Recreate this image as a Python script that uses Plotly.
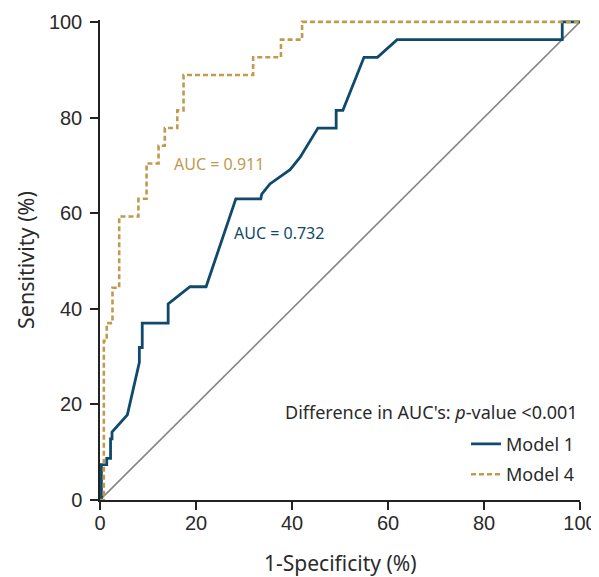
import plotly.graph_objects as go

# Model 1 ROC curve (1-specificity %, sensitivity %)
m1_fpr = [0, 0.3, 0.3, 1.4, 1.4, 2.2, 2.2, 2.5, 2.5, 5.7, 8.2, 8.2, 8.8, 8.8, 14.2, 14.2, 18.75, 22.1,
          28.3, 33.5, 33.7, 35.4, 39.6, 41.7, 45.4, 49.2, 49.2, 50.6, 55.0, 57.8, 61.9, 96.3, 96.3, 100]
m1_tpr = [0, 0, 7.4, 7.4, 8.7, 8.7, 12.8, 12.8, 14.2, 17.8, 28.8, 31.9, 31.9, 37.0, 37.0, 41.0, 44.6, 44.6,
          63.0, 63.0, 64.0, 66.1, 69.1, 71.7, 77.8, 77.8, 81.5, 81.5, 92.6, 92.6, 96.3, 96.3, 100, 100]

# Model 4 ROC curve
m4_fpr = [0, 0.8, 0.8, 1.4, 1.4, 2.6, 2.6, 4.0, 4.0, 8.0, 8.0, 9.7, 9.7, 12.2, 12.2, 13.5, 13.5,
          16.1, 16.1, 17.4, 17.4, 31.9, 31.9, 37.7, 37.7, 42.1, 42.1, 100]
m4_tpr = [0, 0, 33.3, 33.3, 37.0, 37.0, 44.4, 44.4, 59.3, 59.3, 63.0, 63.0, 70.4, 70.4, 74.1, 74.1, 77.8,
          77.8, 81.5, 81.5, 88.9, 88.9, 92.6, 92.6, 96.3, 96.3, 100, 100]

ref_x = [0, 100]
ref_y = [0, 100]

tick_vals = [0, 20, 40, 60, 80, 100]

BLUE = "#0f4a6c"
GOLD = "#c19a4e"
GREY = "#858585"
AX = "#222222"
TXT = "#2a2a2a"

fig = go.Figure()
fig.add_trace(go.Scatter(x=ref_x, y=ref_y, mode="lines", line=dict(color=GREY, width=1.6),
                         showlegend=False, hoverinfo="skip"))
fig.add_trace(go.Scatter(x=m1_fpr, y=m1_tpr, mode="lines", name="Model 1",
                         line=dict(color=BLUE, width=2.8), legendgroup="a"))
fig.add_trace(go.Scatter(x=m4_fpr, y=m4_tpr, mode="lines", name="Model 4",
                         line=dict(color=GOLD, width=2.6, dash="5px,3px"), legendgroup="b"))

fig.add_annotation(x=15.0, y=70.2, xref="x", yref="y", text="AUC = 0.911", showarrow=False,
                   xanchor="left", yanchor="middle", font=dict(family="Noto Sans", size=16, color=GOLD))
fig.add_annotation(x=27.6, y=55.8, xref="x", yref="y", text="AUC = 0.732", showarrow=False,
                   xanchor="left", yanchor="middle", font=dict(family="Noto Sans", size=16, color=BLUE))
fig.add_annotation(x=100, y=18.5, xref="x", yref="y", text="Difference in AUC's: <i>p</i>-value <0.001",
                   showarrow=False, xanchor="right", yanchor="middle",
                   font=dict(family="Noto Sans", size=18, color=TXT))

# axis titles
fig.add_annotation(x=0.5, y=0, xref="paper", yref="paper", text="1-Specificity (%)", showarrow=False,
                   xanchor="center", yanchor="middle", yshift=-63,
                   font=dict(family="Noto Sans", size=21, color=TXT))
fig.add_annotation(x=0, y=0.5, xref="paper", yref="paper", text="Sensitivity (%)", showarrow=False,
                   xanchor="center", yanchor="middle", xshift=-75, textangle=-90,
                   font=dict(family="Noto Sans", size=21.5, color=TXT))

axis_common = dict(showline=True, linecolor=AX, linewidth=1.5, ticks="outside", ticklen=8,
                   tickwidth=1.5, tickcolor=AX, showgrid=False, zeroline=False, automargin=False,
                   tickvals=tick_vals, tickfont=dict(family="Liberation Sans", size=20, color=TXT))

# page body has an 8px margin; figure is sized to fit the window
fig.update_layout(
    width=591, height=569,
    margin=dict(l=92, r=19, t=12, b=77),
    plot_bgcolor="white", paper_bgcolor="white",
    xaxis=dict(range=[0, 100], ticklabelstandoff=-4, **axis_common),
    yaxis=dict(range=[0, 100.4], ticklabelstandoff=4, **axis_common),
    legend=dict(x=1.0, y=0.155, xanchor="right", yanchor="top", bgcolor="rgba(0,0,0,0)",
                font=dict(family="Noto Sans", size=18, color=TXT), tracegroupgap=4,
                itemwidth=30),
)

fig.write_html("out.html")
